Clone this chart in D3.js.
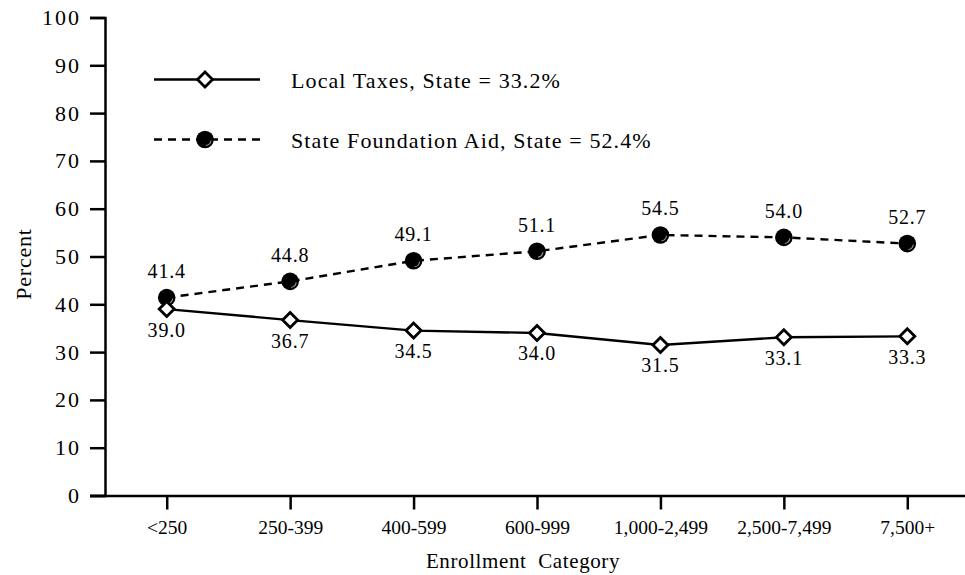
<!DOCTYPE html>
<html>
<head>
<meta charset="utf-8">
<script src="https://cdn.jsdelivr.net/npm/d3@7"></script>
<style>
  html, body { margin: 0; padding: 0; background: #fff; }
  svg text { font-family: "Liberation Serif", "Times New Roman", serif; fill: #000; }
</style>
</head>
<body>
<svg id="chart" width="965" height="575"></svg>
<script>
// Enrollment categories and percentages of revenue by source
const categories = ["<250", "250-399", "400-599", "600-999", "1,000-2,499", "2,500-7,499", "7,500+"];
const localTaxes = [39.0, 36.7, 34.5, 34.0, 31.5, 33.1, 33.3];
const foundationAid = [41.4, 44.8, 49.1, 51.1, 54.5, 54.0, 52.7];
const yTicks = [0, 10, 20, 30, 40, 50, 60, 70, 80, 90, 100];
const legendLabels = ["Local Taxes, State = 33.2%", "State Foundation Aid, State = 52.4%"];

const svg = d3.select("#chart");
const plotLeft = 105, plotBottom = 495.5, plotTop = 17.5;
const serif = '"Liberation Serif", "Times New Roman", serif';

const x = d3.scalePoint().domain(categories).range([105, 969]).padding(0.5);
const y = d3.scaleLinear().domain([0, 100]).range([plotBottom, plotTop]);

// Y axis
const yAxis = svg.append("g").attr("transform", `translate(${plotLeft},0)`)
  .call(d3.axisLeft(y).tickValues(yTicks).tickSize(15).tickPadding(7));
yAxis.attr("font-family", serif);
yAxis.select(".domain").attr("stroke", "#000").attr("stroke-width", 2.5);
yAxis.selectAll(".tick line").attr("stroke", "#000").attr("stroke-width", 2.5);
yAxis.selectAll(".tick text").style("font-size", "22px").style("letter-spacing", "2px").attr("dx", "-2px");

// X axis
const xAxis = svg.append("g").attr("transform", `translate(0,${plotBottom})`)
  .call(d3.axisBottom(x).tickSize(14).tickSizeOuter(0).tickPadding(10));
xAxis.attr("font-family", serif);
xAxis.select(".domain").attr("d", `M90,0.5H965`).attr("stroke", "#000").attr("stroke-width", 2.5);
xAxis.selectAll(".tick line").attr("stroke", "#000").attr("stroke-width", 2.5);
xAxis.selectAll(".tick text").style("font-size", "19.5px").attr("dy", "0.72em");

// Axis titles
svg.append("text").attr("x", 523).attr("y", 568).attr("text-anchor", "middle")
  .style("font-size", "21px").style("word-spacing", "6px").style("letter-spacing", "0.6px").text("Enrollment Category");
svg.append("text").attr("transform", "translate(31,264) rotate(-90)").attr("text-anchor", "middle")
  .style("font-size", "22px").style("letter-spacing", "0.8px").text("Percent");

const line = d3.line().x((d, i) => x(categories[i])).y(d => y(d));

// Series lines
svg.append("path").datum(localTaxes).attr("d", line)
  .attr("fill", "none").attr("stroke", "#000").attr("stroke-width", 2.4);
svg.append("path").datum(foundationAid).attr("d", line)
  .attr("fill", "none").attr("stroke", "#000").attr("stroke-width", 2.4).attr("stroke-dasharray", "8,6");

function diamond(g, cx, cy) {
  g.append("path").attr("d", `M${cx},${cy - 7.5}L${cx + 7.5},${cy}L${cx},${cy + 7.5}L${cx - 7.5},${cy}Z`)
    .attr("fill", "#fff").attr("stroke", "#000").attr("stroke-width", 2.8);
}
function dot(g, cx, cy) {
  g.append("circle").attr("cx", cx).attr("cy", cy).attr("r", 8.8).attr("fill", "#000");
  g.append("path").attr("d", d3.arc()({innerRadius: 5.6, outerRadius: 6.6, startAngle: Math.PI * 0.55, endAngle: Math.PI * 0.95}))
    .attr("transform", `translate(${cx},${cy})`).attr("fill", "#999");
}

// Markers and value labels
const marks = svg.append("g");
foundationAid.forEach((v, i) => {
  dot(marks, x(categories[i]), y(v));
  marks.append("text").attr("x", x(categories[i])).attr("y", y(v) - 19.5).attr("text-anchor", "middle")
    .style("font-size", "20px").style("letter-spacing", "0.8px").text(v.toFixed(1));
});
localTaxes.forEach((v, i) => {
  diamond(marks, x(categories[i]), y(v));
  marks.append("text").attr("x", x(categories[i])).attr("y", y(v) + 27.5).attr("text-anchor", "middle")
    .style("font-size", "20px").style("letter-spacing", "0.8px").text(v.toFixed(1));
});

// Legend
const lg = svg.append("g");
lg.append("line").attr("x1", 154).attr("x2", 260).attr("y1", 79.5).attr("y2", 79.5)
  .attr("stroke", "#000").attr("stroke-width", 2.4);
diamond(lg, 205, 79.5);
lg.append("text").attr("x", 291).attr("y", 88).style("font-size", "22px").style("letter-spacing", "1.1px").text(legendLabels[0]);
lg.append("line").attr("x1", 154).attr("x2", 260).attr("y1", 139.5).attr("y2", 139.5)
  .attr("stroke", "#000").attr("stroke-width", 2.4).attr("stroke-dasharray", "8,6");
dot(lg, 205, 139.5);
lg.append("text").attr("x", 291).attr("y", 148).style("font-size", "22px").style("letter-spacing", "1.1px").text(legendLabels[1]);
</script>
</body>
</html>
